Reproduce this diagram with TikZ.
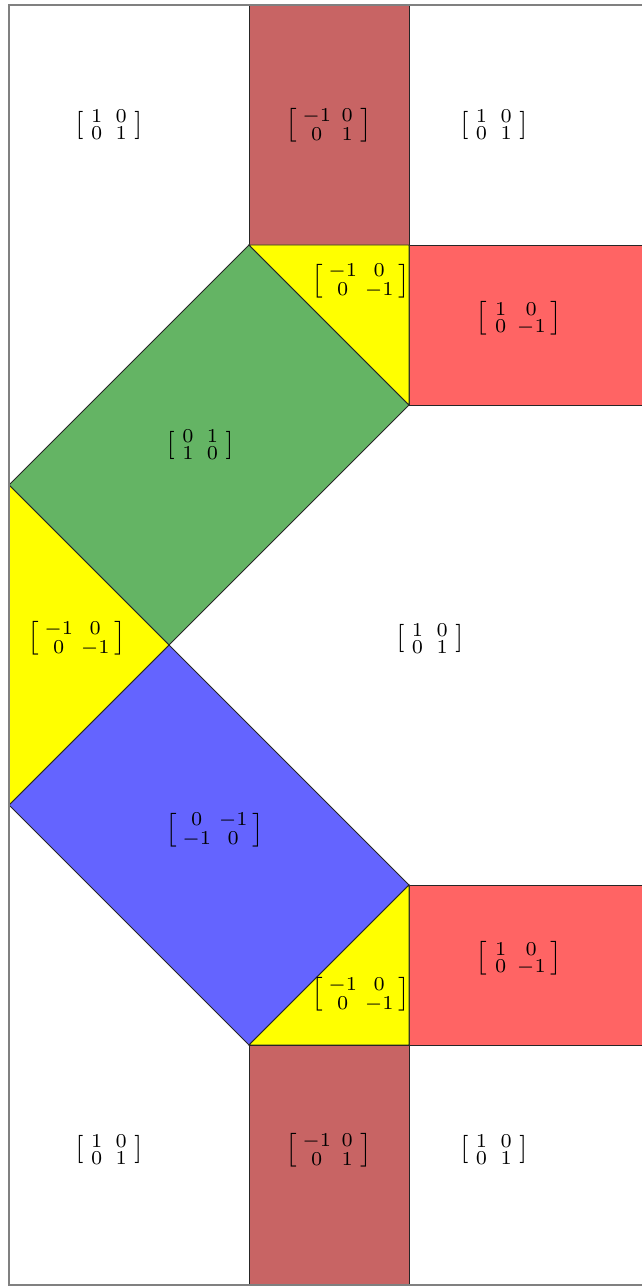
\documentclass[tikz,border=0pt]{standalone}
\usepackage{amsmath}
\definecolor{stripred}{RGB}{200,100,100}
\definecolor{lightred}{RGB}{255,100,100}
\definecolor{midgreen}{RGB}{100,180,100}
\definecolor{midblue}{RGB}{100,100,255}
\definecolor{pureyellow}{RGB}{255,255,0}
% matrix entry with a minimum width
\newcommand{\rent}[1]{\setbox0\hbox{$\scriptstyle#1$}\ifdim\wd0<6pt\hbox to 6pt{\hss\box0\hss}\else\box0\fi}
\newcommand{\rmat}[4]{$\left[\begin{smallmatrix}\rent{#1}&\rent{#2}\\\rent{#3}&\rent{#4}\end{smallmatrix}\right]$}
\begin{document}
\begin{tikzpicture}[region/.style={draw=black!85, line width=0.3pt}]
            \useasboundingbox (-0.1125,-0.0125) rectangle (7.9,16.0625);
            % reflections and swaps
            \filldraw[region, fill=stripred] (3,13) rectangle (5,16);
            \filldraw[region, fill=stripred] (3,0) rectangle (5,3);
            \filldraw[region, fill=lightred] (5,11) rectangle (8,13);
            \filldraw[region, fill=lightred] (5,3) rectangle (8,5);
            \filldraw[region, fill=midgreen] (3,13)--(5,11)--(2,8)--(0,10)--cycle;
            \filldraw[region, fill=midblue] (0,6)--(2,8)--(5,5)--(3,3)--cycle;
            \filldraw[region, fill=pureyellow] (3,13)--(5,13)--(5,11)--cycle;
            \filldraw[region, fill=pureyellow] (0,10)--(2,8)--(0,6)--cycle;
            \filldraw[region, fill=pureyellow] (5,5)--(5,3)--(3,3)--cycle;
            \draw[gray, line width=0.6pt] (0,0) rectangle (8,16);
            % labels
            \foreach \n/\x/\y/\a/\b/\c/\d in {
                tl/1.25/14.5/1/0/0/1, tm/4/14.5/-1/0/0/1, tr/6.06/14.5/1/0/0/1,
                ty/4.4/12.55/-1/0/0/-1, rt/6.375/12.08/1/0/0/-1, gr/2.39/10.5/0/1/1/0,
                ly/0.85/8.08/-1/0/0/-1, mid/5.26/8.08/1/0/0/1, bl/2.575/5.69/0/-1/-1/0,
                by/4.4/3.63/-1/0/0/-1, rb/6.375/4.08/1/0/0/-1,
                bl1/1.25/1.69/1/0/0/1, bm/4/1.69/-1/0/0/1, br/6.06/1.69/1/0/0/1} {
                \node (\n) at (\x,\y) {\rmat{\a}{\b}{\c}{\d}};
            }
        \end{tikzpicture}
\end{document}
